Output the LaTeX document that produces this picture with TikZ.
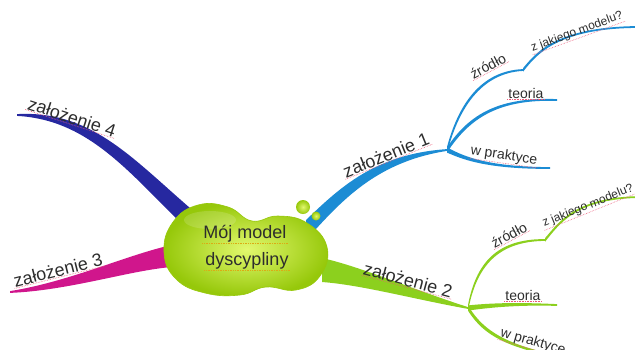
\documentclass[tikz,border=0pt]{standalone}
\usepackage{fontspec}
\setmainfont{Liberation Sans}
\usetikzlibrary{calc}

\definecolor{bblue}{RGB}{28,140,212}
\definecolor{bgreen}{RGB}{140,208,30}
\definecolor{bpink}{RGB}{208,22,140}
\definecolor{bnavy}{RGB}{38,40,160}
\definecolor{blobhi}{RGB}{226,248,110}
\definecolor{blobdark}{RGB}{150,200,10}
\definecolor{textgray}{RGB}{45,45,45}
\definecolor{spellred}{RGB}{235,90,120}
\definecolor{spellgold}{RGB}{220,170,20}

% tapered branch: colour, from, control 1, control 2, to, half width
\newcommand\taper[6]{%
  \fill[#1] ($(#2)+(0,#6)$) .. controls ($(#3)+(0,#6*0.75)$) and ($(#4)+(0,#6*0.4)$) ..
    ($(#5)+(0,0.9)$) -- ($(#5)-(0,0.9)$)
    .. controls ($(#4)-(0,#6*0.4)$) and ($(#3)-(0,#6*0.75)$) .. ($(#2)-(0,#6)$) -- cycle;}

\begin{document}
\begin{tikzpicture}[x={(1pt,0)},y={(0,-1pt)},
    spell/.style={draw=spellred,densely dotted,line width=0.6pt},
    spellg/.style={draw=spellgold,densely dotted,line width=0.7pt},
    lbl/.style={font=\fontsize{18}{20}\selectfont,text=textgray,inner sep=1pt},
    sub/.style={lbl,font=\fontsize{14}{16}\selectfont},
    tiny/.style={lbl,font=\fontsize{12}{14}\selectfont},
    blobtxt/.style={lbl}]
  \useasboundingbox (0,0) rectangle (635,349);

  % branch ends and junctions
  \coordinate (b1) at (306,230);
  \coordinate (j1) at (447,150);
  \coordinate (b2) at (322,270);
  \coordinate (j2) at (468,308);
  \coordinate (b3) at (172,256);
  \coordinate (e3) at (10,292);
  \coordinate (b4) at (190,220);
  \coordinate (e4) at (17,115);
  \coordinate (k1) at (523,70);
  \coordinate (e1a) at (636,27);
  \coordinate (e1b) at (557,100);
  \coordinate (e1c) at (550,168);
  \coordinate (k2) at (545,240);
  \coordinate (e2a) at (640,197);
  \coordinate (e2b) at (557,305);
  \coordinate (e2c) at (590,362);

  % main branches
  \taper{bblue}{b1}{340,195}{375,158}{j1}{10}
  \taper{bgreen}{b2}{362,276}{412,294}{j2}{12}
  \taper{bpink}{b3}{130,262}{70,286}{e3}{11}
  \taper{bnavy}{b4}{130,165}{90,115}{e4}{12}

  % sub branches
  \taper{bblue}{j1}{458,108}{480,72}{k1}{3}
  \taper{bblue}{k1}{536,54}{556,28}{e1a}{1.8}
  \taper{bblue}{j1}{470,115}{500,98}{e1b}{2.6}
  \taper{bblue}{j1}{460,156}{482,168}{e1c}{2.6}
  \taper{bgreen}{j2}{476,266}{496,240}{k2}{3}
  \taper{bgreen}{k2}{560,222}{576,198}{e2a}{1.8}
  \taper{bgreen}{j2}{500,304}{530,304}{e2b}{2.6}
  \taper{bgreen}{j2}{485,336}{512,350}{e2c}{2.6}

  % central blob
  \shade[inner color=blobhi,outer color=blobdark,draw=blobdark,line width=0.6pt]
    plot[smooth cycle,tension=0.75] coordinates {(164,252) (173,222) (198,205) (228,207)
      (252,221) (278,216) (307,223) (327,247) (320,276) (296,290) (266,287) (240,295)
      (205,293) (176,279)};
  \fill[white,opacity=0.15] (210,220) ellipse (26 and 9);
  \shade[inner color=blobhi,outer color=blobdark] (303,207) circle (7);
  \shade[inner color=blobhi,outer color=blobdark] (316,216) circle (4.5);

  \node[blobtxt] (moj) at (245,234) {Mój model};
  \node[blobtxt] (dys) at (247,261) {dyscypliny};

  % labels
  \node[lbl,rotate=-18] (z4) at (72,117) {założenie 4};
  \node[lbl,rotate=14] (z3) at (58,270) {założenie 3};
  \node[lbl,rotate=22] (z1) at (386,155) {założenie 1};
  \node[lbl,rotate=-15] (z2) at (408,280) {założenie 2};

  \node[sub,rotate=28] (zr1) at (488,66) {źródło};
  \node[tiny,rotate=20] (zm1) at (577,32) {z jakiego modelu?};
  \node[sub] (te1) at (526,93) {teoria};
  \node[sub,rotate=-8] (wp1) at (504,156) {w praktyce};

  \node[sub,rotate=28] (zr2) at (509,235) {źródło};
  \node[tiny,rotate=22] (zm2) at (588,206) {z jakiego modelu?};
  \node[sub] (te2) at (523,295) {teoria};
  \node[sub,rotate=-16] (wp2) at (533,342) {w praktyce};

  % spell-check underlines
  \foreach \n in {z1,z2,z3,z4,zr1,zm1,te1,wp1,zr2,zm2,te2,wp2}
    \draw[spell] ([yshift=0.5pt]\n.south west) -- ([yshift=0.5pt]\n.south east);
  \foreach \n in {moj,dys}
    \draw[spellg] (\n.south west) -- (\n.south east);
\end{tikzpicture}
\end{document}
